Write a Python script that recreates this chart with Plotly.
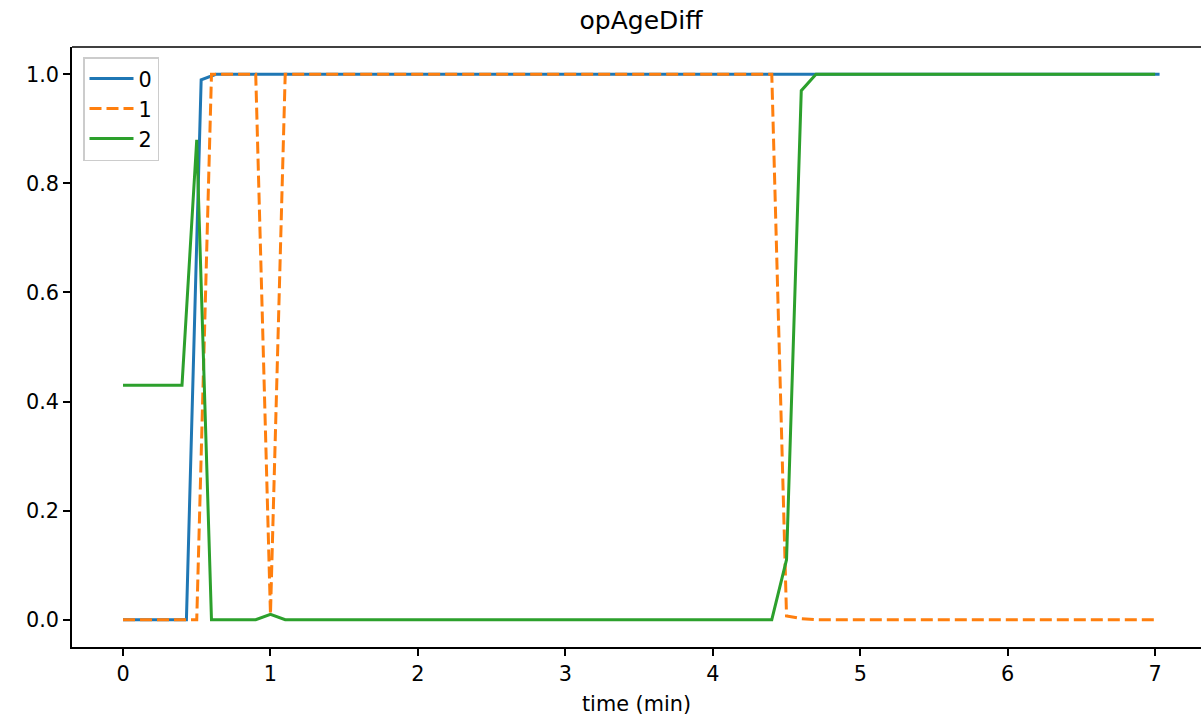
import plotly.graph_objects as go

# Series 0 (blue, solid)
time0 = [0.0, 0.43, 0.53, 0.63, 7.03]
vals0 = [0.0, 0.0, 0.99, 1.0, 1.0]

# Series 1 (orange, dashed)
time1 = [0.0, 0.5, 0.6, 0.9, 1.0, 1.1, 4.4, 4.5, 4.6, 4.7, 7.0]
vals1 = [0.0, 0.0, 1.0, 1.0, 0.01, 1.0, 1.0, 0.007, 0.002, 0.0, 0.0]

# Series 2 (green, solid)
time2 = [0.0, 0.4, 0.5, 0.6, 0.9, 1.0, 1.1, 4.4, 4.5, 4.6, 4.7, 7.0]
vals2 = [0.43, 0.43, 0.88, 0.0, 0.0, 0.01, 0.0, 0.0, 0.11, 0.97, 1.0, 1.0]

series_names = ["0", "1", "2"]
x_ticks = [0, 1, 2, 3, 4, 5, 6, 7]
y_ticks = [0.0, 0.2, 0.4, 0.6, 0.8, 1.0]

FONT = "DejaVu Sans"
fig = go.Figure()
fig.add_trace(go.Scatter(x=time0, y=vals0, mode="lines", name=series_names[0],
                         line=dict(color="#1f77b4", width=3)))
fig.add_trace(go.Scatter(x=time1, y=vals1, mode="lines", name=series_names[1],
                         line=dict(color="#ff7f0e", width=3, dash="12px,5px")))
fig.add_trace(go.Scatter(x=time2, y=vals2, mode="lines", name=series_names[2],
                         line=dict(color="#2ca02c", width=3)))

fig.update_layout(
    width=1201, height=719,
    margin=dict(l=72, r=0, t=47, b=72),
    paper_bgcolor="white", plot_bgcolor="white",
    font=dict(family=FONT, size=20.8, color="black"),
    title=dict(text="opAgeDiff", x=641/1201, xanchor="center", xref="container",
               y=1 - 20/719, yanchor="middle", yref="container",
               font=dict(family=FONT, size=25, color="black")),
    xaxis=dict(range=[-0.346, 7.311], tickvals=x_ticks, ticktext=[str(v) for v in x_ticks],
               showgrid=False, zeroline=False, showline=True, linecolor="black", linewidth=1.7,
               ticks="outside", ticklen=7, tickwidth=1.7, tickcolor="black",
               title=dict(text="time (min)", standoff=12, font=dict(family=FONT, size=20.8))),
    yaxis=dict(range=[-0.05, 1.05], tickvals=y_ticks, ticktext=[f"{v:.1f}" for v in y_ticks],
               showgrid=False, zeroline=False, showline=True, linecolor="black", linewidth=1.7,
               ticks="outside", ticklen=7, tickwidth=1.7, tickcolor="black"),
    legend=dict(x=(83-72)/(1201-72), y=1 - (57-47)/600, xanchor="left", yanchor="top",
                bgcolor="rgba(255,255,255,0.8)", bordercolor="#cccccc", borderwidth=1.5,
                itemwidth=44, font=dict(family=FONT, size=20.8)),
    shapes=[dict(type="line", xref="paper", yref="paper", x0=0, x1=1, y0=1, y1=1,
                 line=dict(color="black", width=1.7))],
)

fig.write_html("out.html", config={"displayModeBar": False},
               post_script="document.body.style.margin='0px';document.body.style.overflow='hidden';")
